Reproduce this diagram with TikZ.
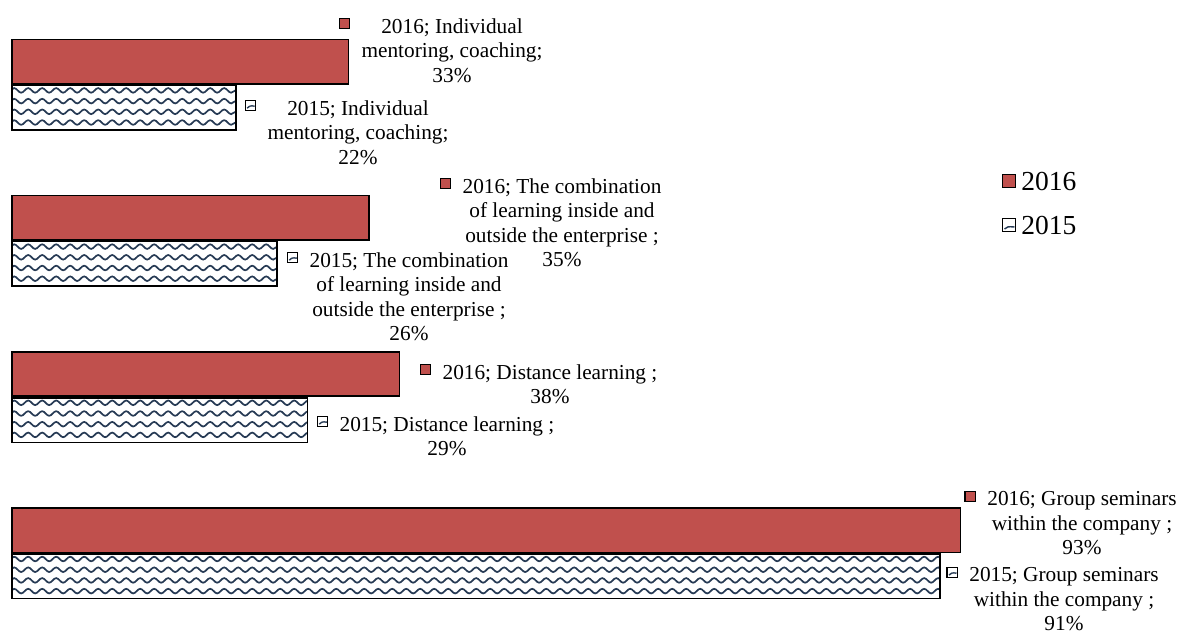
\documentclass[tikz,border=0pt]{standalone}
\usepackage{fontspec}
\setmainfont{Liberation Serif}
\usetikzlibrary{positioning,decorations.pathmorphing}
\definecolor{barred}{RGB}{192,80,77}
\definecolor{wavecol}{RGB}{38,58,84}

\begin{document}
\begin{tikzpicture}[x=1pt, y=-1pt,
  font=\fontsize{21.3}{24.5}\selectfont,
  wave/.style={draw=wavecol, line width=1.7pt, decorate,
               decoration={snake, segment length=14pt, amplitude=2.3pt}},
  bar16/.style={draw, line width=1.6pt, fill=barred, minimum height=44.5pt,
                inner sep=0pt, anchor=north west},
  bar15/.style={draw, line width=1.6pt, fill=white, minimum height=44.5pt,
                inner sep=0pt, anchor=north west,
                path picture={\foreach \k in {0,...,3}
                  \draw[wave] ([xshift=-2pt, yshift={-5pt-\k*10.7pt}]path picture bounding box.north west)
                           -- ([xshift=6pt, yshift={-5pt-\k*10.7pt}]path picture bounding box.north east);}},
  lbl/.style={align=center, inner sep=0pt, anchor=north},
  key16/.style={draw, line width=1.3pt, fill=barred, minimum size=10.5pt, inner sep=0pt},
  key15/.style={draw, line width=1.3pt, fill=white, minimum size=10.5pt, inner sep=0pt,
                path picture={\draw[wavecol, line width=1.4pt]
                  ([xshift=2pt, yshift=2.5pt]path picture bounding box.south west)
                  .. controls ([xshift=5pt, yshift=5pt]path picture bounding box.south west)
                  .. ([xshift=-1pt, yshift=4.5pt]path picture bounding box.south east);}},
  legtext/.style={inner sep=0pt, font=\fontsize{27.5}{30}\selectfont}]
  \useasboundingbox (0,0) rectangle (1184,630);

  % Bars, 2016 on top and 2015 below
  \node (b16ind) [bar16, minimum width={33*10.2pt}] at (11, 38.5) {};
  \node (b15ind) [bar15, minimum width={22*10.2pt}] at (b16ind.south west) {};
  \node (b16comb) [bar16, minimum width={35*10.2pt}] at (11, 194.7) {};
  \node (b15comb) [bar15, minimum width={26*10.2pt}] at (b16comb.south west) {};
  \node (b16dist) [bar16, minimum width={38*10.2pt}] at (11, 350.9) {};
  \node (b15dist) [bar15, minimum width={29*10.2pt}] at (b16dist.south west) {};
  \node (b16grp) [bar16, minimum width={93*10.2pt}] at (11, 507.1) {};
  \node (b15grp) [bar15, minimum width={91*10.2pt}] at (b16grp.south west) {};

  % Data labels
  \node (l16ind) [lbl] at (452, 18.5) {2016; Individual\\mentoring, coaching;\\33\%};
  \node (l15ind) [lbl] at (358, 100.5) {2015; Individual\\mentoring, coaching;\\22\%};
  \node (l16comb) [lbl] at (562, 178.5) {2016; The combination\\of learning inside and\\outside the enterprise ;\\35\%};
  \node (l15comb) [lbl] at (409, 252.5) {2015; The combination\\of learning inside and\\outside the enterprise ;\\26\%};
  \node (l16dist) [lbl] at (550, 364.5) {2016; Distance learning ;\\38\%};
  \node (l15dist) [lbl] at (447, 416.5) {2015; Distance learning ;\\29\%};
  \node (l16grp) [lbl] at (1082, 491.5) {2016; Group seminars\\within the company ;\\93\%};
  \node (l15grp) [lbl] at (1064, 567.5) {2015; Group seminars\\within the company ;\\91\%};

  % Keys in front of the labels
  \node (k16ind) [key16, below left=-1pt and 11pt of l16ind.north west] {};
  \node (k15ind) [key15, below left=-1pt and 11pt of l15ind.north west] {};
  \node (k16comb) [key16, below left=-1pt and 11pt of l16comb.north west] {};
  \node (k15comb) [key15, below left=-1pt and 11pt of l15comb.north west] {};
  \node (k16dist) [key16, below left=-1pt and 11pt of l16dist.north west] {};
  \node (k15dist) [key15, below left=-1pt and 11pt of l15dist.north west] {};
  \node (k16grp) [key16, below left=-1pt and 11pt of l16grp.north west] {};
  \node (k15grp) [key15, below left=-1pt and 11pt of l15grp.north west] {};

  % Legend
  \node (lk16) [key16, minimum size=13pt] at (1009, 181) {};
  \node (lt16) [legtext, right=5pt of lk16] {2016};
  \node (lk15) [key15, minimum size=13pt] at (1009, 225) {};
  \node (lt15) [legtext, right=5pt of lk15] {2015};
\end{tikzpicture}
\end{document}
